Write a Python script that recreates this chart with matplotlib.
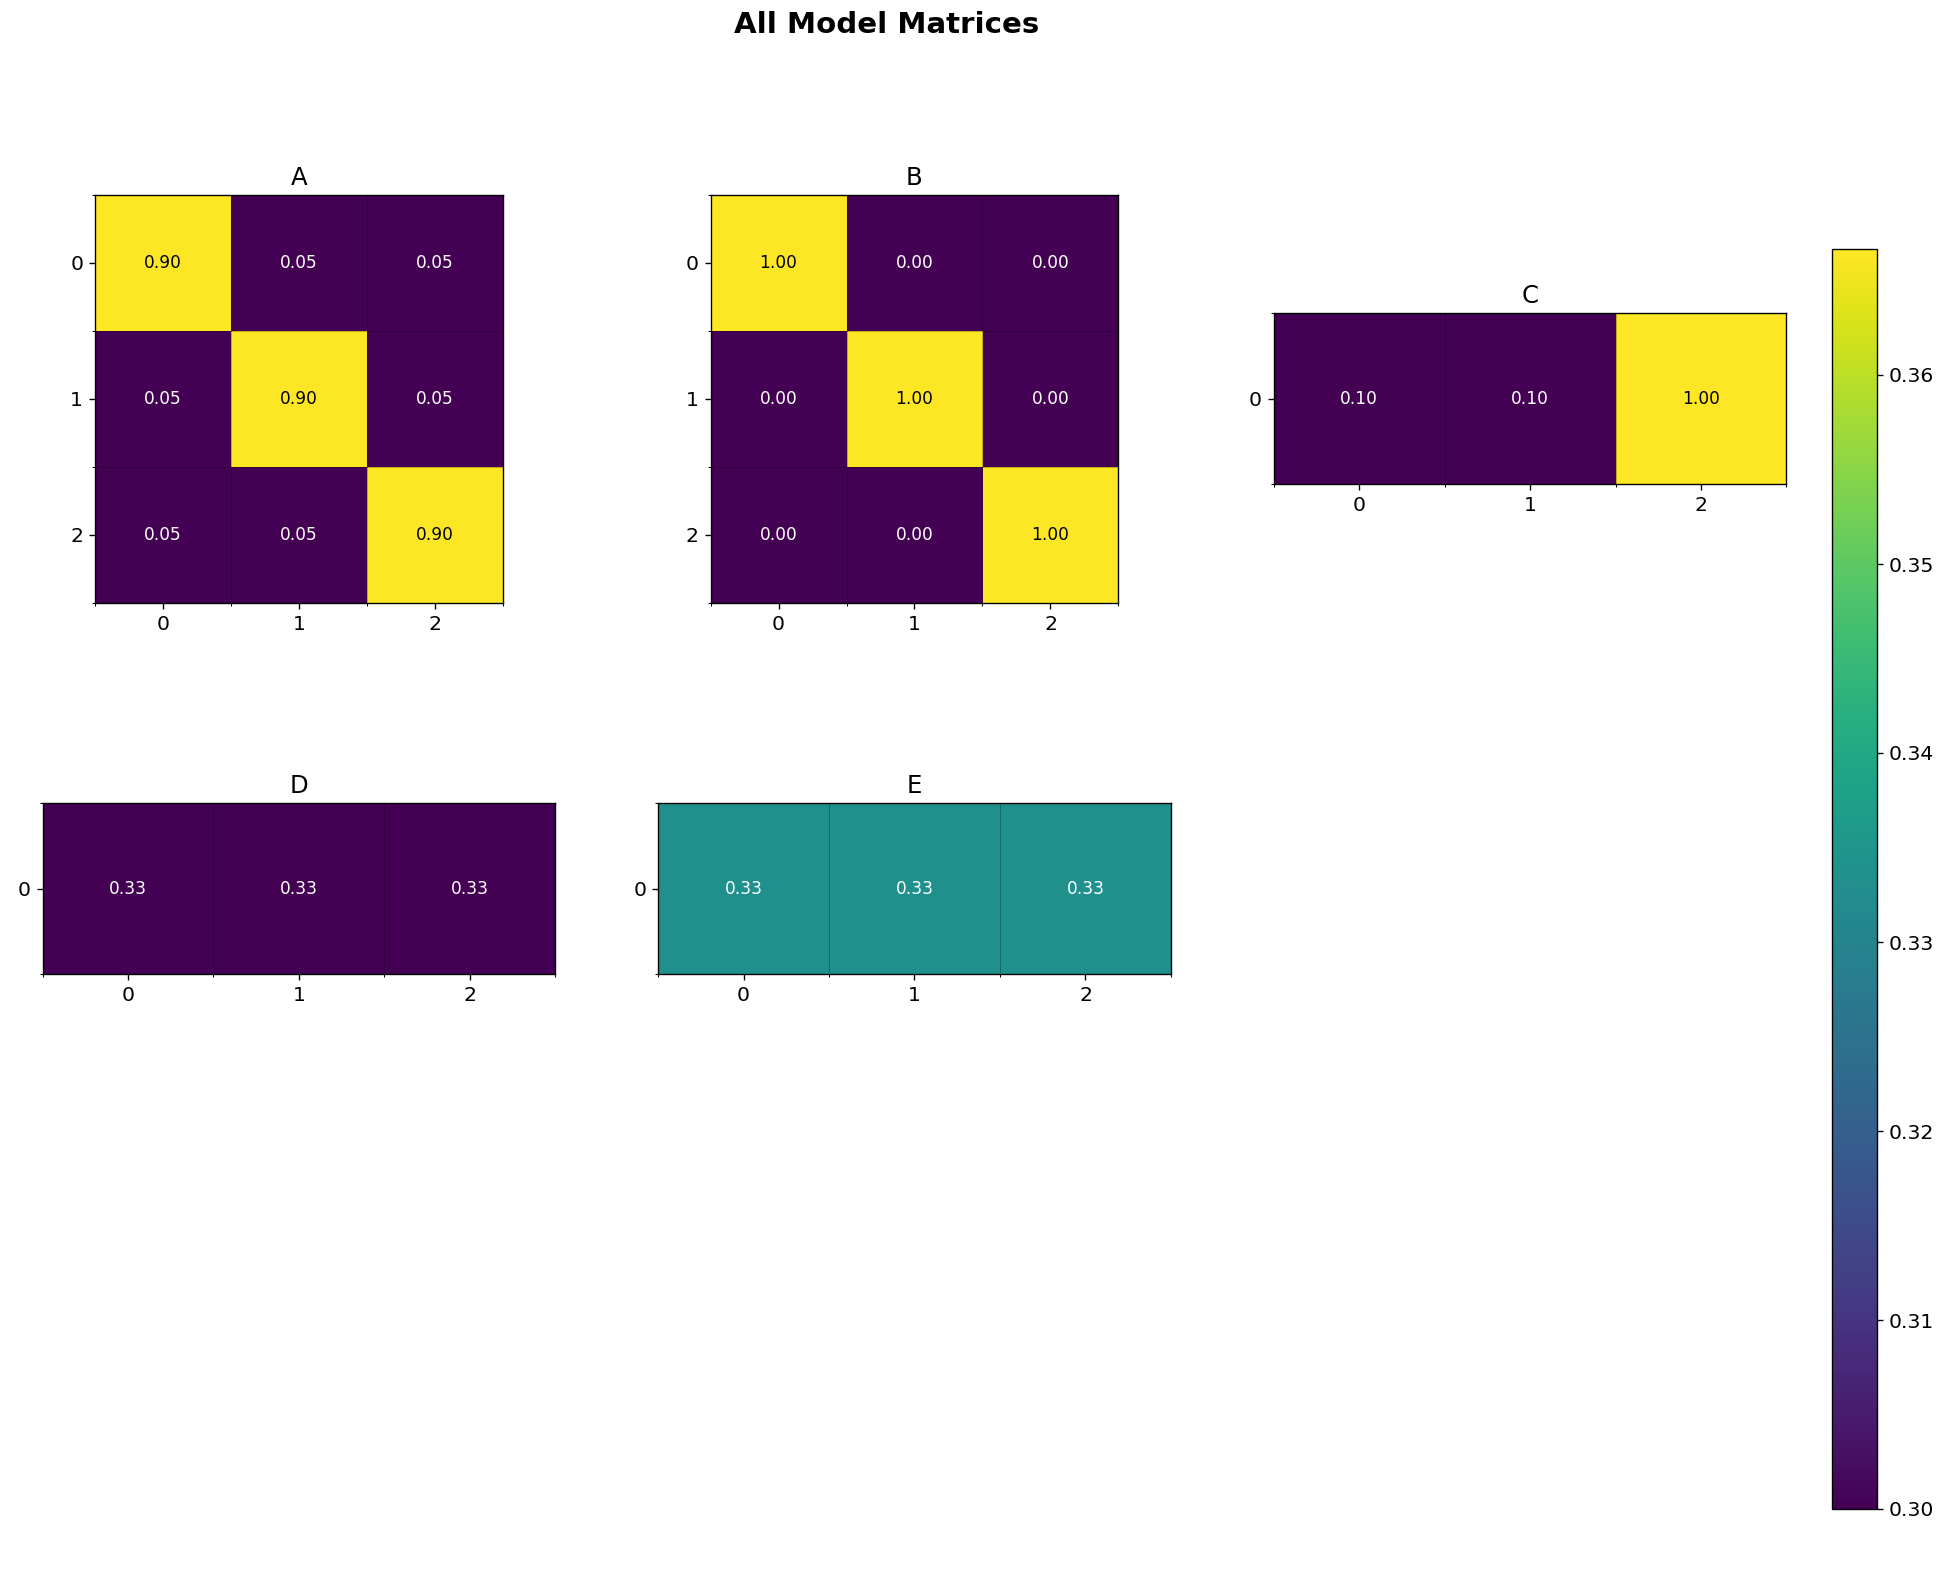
import numpy as np
import matplotlib
matplotlib.use('Agg')
import matplotlib.pyplot as plt

plt.rcParams['font.size'] = 12

# matrices
names = ['A', 'B', 'C', 'D', 'E']
A = [[0.90, 0.05, 0.05],
     [0.05, 0.90, 0.05],
     [0.05, 0.05, 0.90]]
B = [[1.0, 0.0, 0.0],
     [0.0, 1.0, 0.0],
     [0.0, 0.0, 1.0]]
C = [[0.1, 0.1, 1.0]]
D = [[1/3, 1/3, 1/3]]
E = [[1/3, 1/3, 1/3]]
matrices = [A, B, C, D, E]

W, H, dpi = 1952, 1596, 122
fig, axes = plt.subplots(3, 3, figsize=(W/dpi, H/dpi), dpi=dpi)
fig.subplots_adjust(left=42.5/W, right=1786.5/W, top=1-195/H, bottom=1-1582/H,
                    wspace=0.2, hspace=0.2)
axes = axes.flatten()

im = None
for i, (name, m) in enumerate(zip(names, matrices)):
    ax = axes[i]
    m = np.array(m)
    im = ax.imshow(m, cmap='viridis')
    ax.set_title(name)
    ax.set_xticks(np.arange(m.shape[1]))
    ax.set_yticks(np.arange(m.shape[0]))
    ax.set_xticks(np.arange(-0.5, m.shape[1], 1), minor=True)
    ax.set_yticks(np.arange(-0.5, m.shape[0], 1), minor=True)
    ax.grid(which='minor', color='black', linewidth=0.5, alpha=0.3)
    for r in range(m.shape[0]):
        for c in range(m.shape[1]):
            val = m[r, c]
            col = 'black' if val > 0.5 else 'white'
            ax.text(c, r, f'{val:.2f}', ha='center', va='center', color=col, fontsize=10)

for ax in axes[len(matrices):]:
    ax.axis('off')

# colorbar for the last one (E)
cax = fig.add_axes([1832/W, 1-1509/H, 45/W, 1260/H])
fig.colorbar(im, cax=cax)

fig.suptitle('All Model Matrices', fontweight='bold', fontsize='x-large', x=887/W, y=0.993)
plt.savefig('out.png', dpi=dpi)
